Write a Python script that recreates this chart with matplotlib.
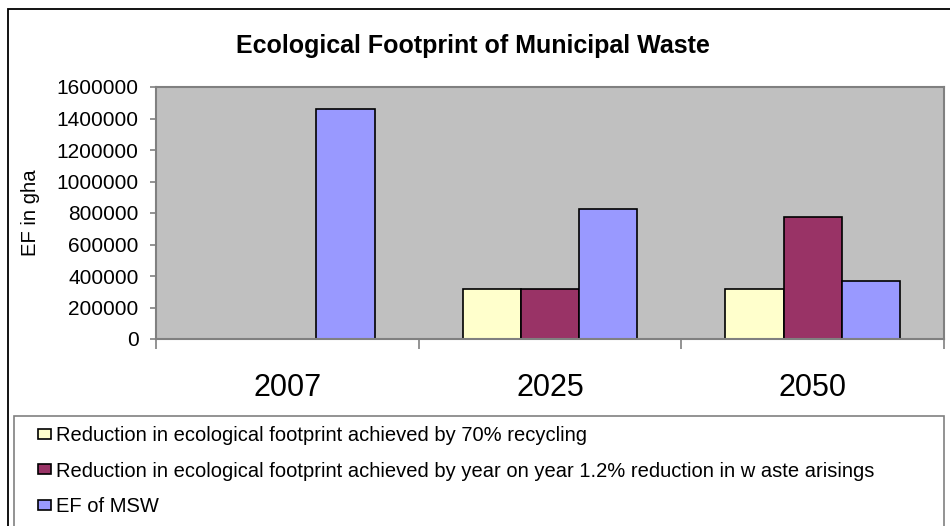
import numpy as np
import matplotlib
matplotlib.use("Agg")
import matplotlib.pyplot as plt
from matplotlib.patches import Rectangle

years = ["2007", "2025", "2050"]
recycling = [np.nan, 317000, 317000]
waste_reduction = [np.nan, 317000, 773000]
ef_msw = [1460000, 823000, 368000]
series_labels = [
    "Reduction in ecological footprint achieved by 70% recycling",
    "Reduction in ecological footprint achieved by year on year 1.2% reduction in w aste arisings",
    "EF of MSW",
]
colors = ["#FFFFCC", "#993366", "#9999FF"]
yticks = [0, 200000, 400000, 600000, 800000, 1000000, 1200000, 1400000, 1600000]

plt.rcParams['font.family'] = ['Liberation Sans', 'DejaVu Sans']

W, H = 950, 526
fig = plt.figure(figsize=(9.5, 5.26), dpi=100)
fig.patch.set_facecolor("white")

# outer chart border (cut off at right/bottom)
fig.patches.append(Rectangle((8 / W, -0.1), 1.2, 1 - 9 / H + 0.1, transform=fig.transFigure,
                             fill=False, edgecolor="black", linewidth=1.3))

ax = fig.add_axes([156 / W, 1 - 339 / H, 788 / W, 252 / H])
ax.set_facecolor("#C0C0C0")

x = np.arange(len(years))
w = 0.222
handles = []
for i, (vals, c, lab) in enumerate(zip([recycling, waste_reduction, ef_msw], colors, series_labels)):
    b = ax.bar(x + (i - 1) * w, vals, width=w, color=c, edgecolor="black", linewidth=1.2, label=lab)
    handles.append(b)

ax.set_xlim(-0.5, 2.5)
ax.set_ylim(0, 1600000)
ax.set_yticks(yticks)
ax.set_yticklabels([str(v) for v in yticks], fontsize=15)
ax.set_xticks(x)
ax.set_xticklabels(years, fontsize=22)
ax.set_xticks([-0.5, 0.5, 1.5, 2.5], minor=True)
ax.tick_params(axis="x", which="major", length=0, pad=24.5)
ax.tick_params(axis="x", which="minor", length=7, color="#808080", width=1.2)
ax.tick_params(axis="y", length=4.5, color="#808080", width=1.2, pad=8)
for s in ax.spines.values():
    s.set_color("#808080")
    s.set_linewidth(1.5)

ax.set_ylabel("EF in gha", fontsize=14.6)
ax.yaxis.set_label_coords((40.5 - 156) / 788, 0.5)
fig.text(473 / W, 1 - 53 / H, "Ecological Footprint of Municipal Waste", ha="center", va="baseline",
         fontsize=18, fontweight="bold")

# legend box (extends below figure)
fig.patches.append(Rectangle((14 / W, -0.1), 930 / W, 1 - 416 / H + 0.1, transform=fig.transFigure,
                             fill=False, edgecolor="#808080", linewidth=1.2))
fig.legend(handles=handles, loc="upper left", bbox_to_anchor=(38 / W, 1 - 426 / H),
           frameon=False, fontsize=14.5, handlelength=0.66, handleheight=0.4,
           handletextpad=0.25, labelspacing=0.82, borderaxespad=0, borderpad=0)

fig.savefig("out.png", dpi=100)
